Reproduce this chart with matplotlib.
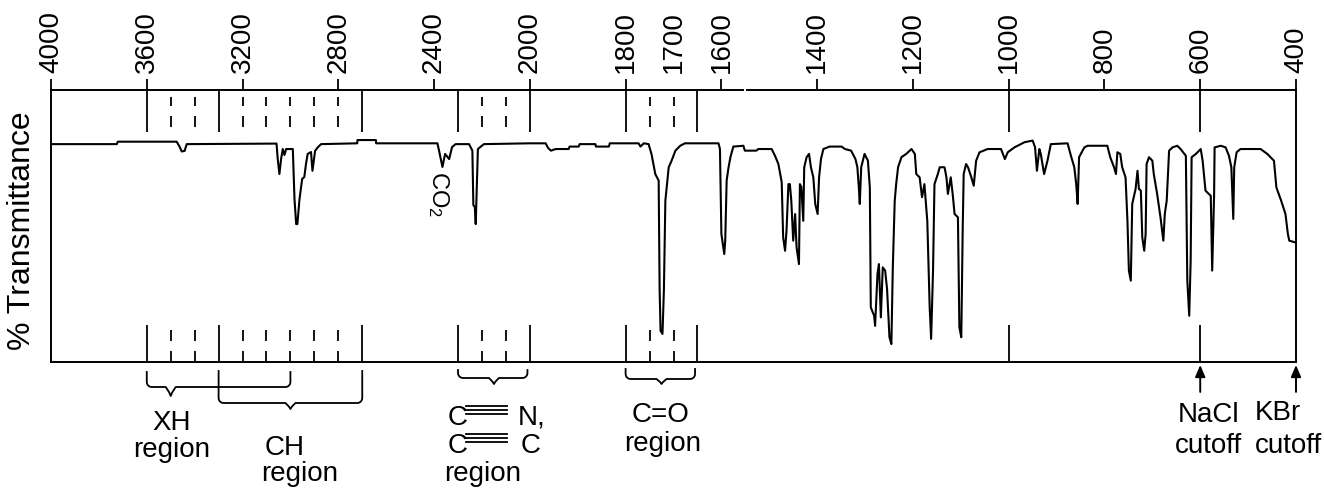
import numpy as np
import matplotlib
matplotlib.use('Agg')
import matplotlib.pyplot as plt
from matplotlib.ticker import FixedLocator, FixedFormatter
from matplotlib.lines import Line2D
from matplotlib.transforms import Affine2D

plt.rcParams['font.family'] = ['Liberation Sans', 'DejaVu Sans']
plt.rcParams['mathtext.default'] = 'regular'

W, H = 1324, 489

# IR spectrum: wavenumber (cm-1) and % transmittance
wavenumber = [4000, 3725, 3721, 3475, 3462, 3454, 3442, 3433, 3058, 3053, 3046, 3039, 3032, 3025,
              3018, 2990, 2983, 2976, 2971, 2962, 2951, 2942, 2935, 2928, 2914, 2908, 2897, 2886,
              2872, 2721, 2720, 2643, 2642, 2386, 2379, 2365, 2354, 2337, 2325, 2310, 2254, 2240,
              2236, 2230, 2226, 2223, 2217, 2192, 2000,
              1967, 1962, 1956, 1946, 1919, 1917, 1898, 1896, 1863, 1862, 1835, 1833, 1773, 1769,
              1762, 1752, 1746, 1742, 1738, 1731, 1729, 1727, 1723, 1720, 1717, 1710, 1704, 1696,
              1686, 1676, 1606, 1603, 1600, 1594, 1592, 1589, 1585, 1581, 1575, 1554, 1551, 1527,
              1523, 1495, 1488, 1481, 1474, 1471, 1467, 1464, 1460, 1457, 1454, 1450, 1446, 1443,
              1438, 1436, 1433, 1429, 1427, 1422, 1417, 1413, 1408, 1404, 1399, 1396, 1392, 1387,
              1374, 1349, 1342, 1329, 1320, 1316, 1313, 1311, 1308, 1301, 1294, 1290, 1288, 1281,
              1279, 1274, 1271, 1267, 1263, 1258, 1254, 1249, 1245, 1242, 1238, 1235, 1231, 1224,
              1214, 1203, 1196, 1193, 1186, 1181, 1176, 1170, 1165, 1162, 1158, 1155, 1148, 1144,
              1134, 1130, 1127, 1121, 1117, 1113, 1106, 1103, 1099, 1096, 1094, 1089, 1085, 1078,
              1073, 1068, 1061, 1044, 1016, 1008, 1002, 988, 967, 950, 945, 941, 936, 933, 926,
              919, 912, 877, 870, 863, 859, 856, 853, 842, 835, 794, 788, 780, 776, 773, 767, 763,
              756, 752, 749, 745, 742, 735, 731, 728, 724, 721, 717, 714, 712, 707, 700, 697, 690,
              683, 677, 674, 670, 665, 658, 648, 641, 630, 627, 623, 621, 620, 618, 609, 599, 595,
              589, 578, 575, 571, 570, 557, 547, 540, 535, 531, 529, 524, 516, 474, 460, 446, 441,
              431, 422, 417, 414, 402]
transmittance = [80.1, 80.1, 81.0, 81.0, 79.0, 77.4, 77.6, 80.1, 80.3, 74.6, 69.1, 74.6, 78.3, 76.1,
                 78.3, 78.3, 59.9, 50.7, 50.7, 59.9, 67.3, 68.0, 72.8, 76.5, 77.2, 70.3, 77.6, 78.9,
                 80.1, 80.4, 81.6, 81.6, 80.4, 80.4, 77.6, 71.7, 76.5, 74.6, 79.0, 80.1, 80.1, 77.7,
                 57.7, 57.0, 50.7, 60.0, 78.3, 80.1, 80.4,
                 80.4, 78.7, 77.7, 78.3, 78.3, 79.2, 79.2, 80.1, 80.1, 79.2, 79.2, 80.4, 80.4, 79.2,
                 80.4, 80.1, 76.5, 72.8, 69.1, 66.7, 26.8, 11.5, 10.3, 26.8, 59.3, 71.6, 74.0, 77.7,
                 79.5, 80.4, 80.4, 78.3, 47.1, 39.7, 44.6, 66.7, 71.6, 75.4, 79.2, 79.5, 77.7, 77.7,
                 78.3, 78.3, 75.8, 72.8, 66.1, 45.8, 40.9, 48.3, 65.4, 65.4, 59.3, 44.6, 54.4, 42.2,
                 36.0, 65.4, 64.3, 51.9, 71.6, 75.3, 76.5, 71.6, 67.9, 58.1, 54.4, 67.9, 74.6, 78.3,
                 79.2, 79.2, 78.3, 77.7, 74.6, 71.6, 64.2, 58.1, 71.6, 76.5, 74.0, 64.2, 20.1, 17.0,
                 13.3, 32.4, 36.0, 16.4, 34.8, 33.6, 26.8, 9.1, 6.6, 34.8, 59.3, 65.4, 71.6, 75.3,
                 76.5, 78.3, 76.5, 69.1, 67.9, 60.6, 65.4, 51.9, 20.1, 8.5, 33.6, 65.4, 69.1, 71.6,
                 71.6, 67.9, 61.8, 67.9, 61.8, 54.4, 53.2, 12.8, 9.1, 49.5, 69.1, 72.8, 71.6, 67.9,
                 64.8, 74.0, 77.1, 78.3, 78.3, 74.6, 77.1, 78.9, 80.8, 81.4, 79.0, 70.3, 78.3, 76.5, 69.1,
                 74.0, 80.1, 80.4, 75.8, 71.6, 65.4, 58.1, 75.3, 78.9, 79.5, 79.5, 75.3, 71.6, 69.1, 77.1, 76.5, 71.6,
                 67.9, 51.9, 33.6, 29.9, 58.1, 63.6, 70.3, 63.6, 63.0, 45.8, 40.9, 47.1, 72.8, 75.3, 74.0, 69.1, 61.8,
                 53.2, 44.6, 54.4, 59.3, 77.7, 78.9, 79.5, 78.3, 75.8, 29.9, 17.0, 29.9, 37.2, 75.3, 76.5, 78.3, 74.0,
                 63.0, 61.1, 33.6, 61.8, 78.9, 79.5, 78.9, 75.8, 71.6, 52.6, 71.6, 77.1, 78.3, 78.3, 76.5, 74.0, 64.2,
                 59.3, 54.4, 47.1, 44.6, 44.0]

tick_values = [4000, 3600, 3200, 2800, 2400, 2000, 1800, 1600, 1400, 1200, 1000, 800, 600, 400]
solid_marks = [3600, 3300, 2700, 2300, 2000, 1800, 1650, 1000, 600]
dashed_marks = [3500, 3400, 3200, 3100, 3000, 2900, 2800, 2200, 2100, 1750, 1700]
cutoffs = [600, 400]

# braces under the axis: left, right, apex wavenumber, then top/flat/tip offsets (px below axis)
braces = [(3600, 3000, 3500, 10, 25, 34),
          (3300, 2700, 3000, 9, 41, 47),
          (2300, 2010, 2150, 8, 16, 22),
          (1800, 1655, 1725, 7, 17, 22)]


def fwd(w):
    # 4000-2000 is drawn at half the scale of 2000-400
    w = np.asarray(w, dtype=float)
    return np.where(w >= 2000, 1000 + (w - 2000) / 2, w - 1000)


def inv(t):
    t = np.asarray(t, dtype=float)
    return np.where(t >= 1000, 2000 + 2 * (t - 1000), t + 1000)


fig = plt.figure(figsize=(W / 100, H / 100), dpi=100)
ax = fig.add_axes([51 / W, 1 - 363 / H, (1296 - 51) / W, (363 - 91) / H])
ax.set_xscale('function', functions=(fwd, inv))
ax.set_xlim(4000, 400)
ax.set_ylim(0, 100)

# pixel coords with origin at top-left of the image
pix = Affine2D().scale(1 / W, -1 / H).translate(0, 1) + fig.transFigure

ax.plot(wavenumber, transmittance, color='black', lw=1.5)

# region marks hanging from the top and rising from the bottom
lw = 1.3
ax.vlines(solid_marks, 84.7, 100, color='black', lw=lw, clip_on=False)
ax.vlines(solid_marks, 0, 13.7, color='black', lw=lw, clip_on=False)
for lo, hi in [(94.0, 97.5), (86.3, 90.5)]:
    ax.vlines(dashed_marks, lo, hi, color='black', lw=lw)
for lo, hi in [(0, 4.2), (7.8, 11.8)]:
    ax.vlines(dashed_marks, lo, hi, color='black', lw=lw, clip_on=False)

# top line has a small break near 1550
ax.spines['top'].set_visible(False)
ax.plot([4000, 1555], [100, 100], color='black', lw=1.4, clip_on=False)
ax.plot([1546, 400], [100, 100], color='black', lw=1.4, clip_on=False)
for s in ['left', 'right', 'bottom']:
    ax.spines[s].set_linewidth(1.4)

ax.xaxis.tick_top()
ax.xaxis.set_major_locator(FixedLocator(tick_values))
ax.xaxis.set_major_formatter(FixedFormatter([str(v) for v in tick_values]))
ax.xaxis.set_minor_locator(FixedLocator([1700]))
ax.xaxis.set_minor_formatter(FixedFormatter(['1700']))
ax.tick_params(axis='x', which='major', length=8, width=1.3, pad=5, labelsize=20,
               labelrotation=90, top=True, bottom=False, labeltop=True, labelbottom=False)
ax.tick_params(axis='x', which='minor', length=0, pad=13, labelsize=20,
               labelrotation=90, top=True, bottom=False, labeltop=True, labelbottom=False)
ax.set_yticks([])

fig.text(22, 231, '% Transmittance', transform=pix, rotation=90, ha='center', va='center',
         fontsize=23)
ax.text(2380, 62, r'CO$_2$', rotation=270, ha='center', va='center', fontsize=17)

# cutoff arrows
for w in cutoffs:
    ax.annotate('', xy=(w, -1.1), xytext=(w, -11), annotation_clip=False,
                arrowprops=dict(arrowstyle='-|>,head_length=0.7,head_width=0.3', color='black',
                                lw=1.4, shrinkA=0, shrinkB=0))

# braces
base = H - ax.transAxes.transform((0, 0))[1]


def px(w):
    return ax.transData.transform((w, 50))[0]


def arc(cx, cy, r, a0, a1):
    a = np.linspace(a0, a1, 8)
    return list(cx + r * np.cos(a)), list(cy + r * np.sin(a))


for wl, wr, wa, top, flat, tip in braces:
    xl, xr, xa = px(wl), px(wr), px(wa)
    y_top, y_flat, y_tip = base + top, base + flat, base + tip
    r = 5
    xs, ys = [xl], [y_top]
    ax_, ay_ = arc(xl + r, y_flat - r, r, np.pi, np.pi / 2)
    xs += ax_; ys += ay_
    xs += [xa - r, xa - 1.5, xa, xa + 1.5, xa + r]
    ys += [y_flat, y_flat + (y_tip - y_flat) * 0.6, y_tip, y_flat + (y_tip - y_flat) * 0.6, y_flat]
    ax_, ay_ = arc(xr - r, y_flat - r, r, np.pi / 2, 0)
    xs += ax_; ys += ay_
    xs += [xr]; ys += [y_top]
    fig.add_artist(Line2D(xs, ys, transform=pix, color='black', lw=1.3))

# labels under the axis
fs = 20
labels = [(171.5, 430, 'XH'), (171.7, 457, 'region'),
          (285, 455, 'CH'), (300, 481, 'region'),
          (483, 481, 'region'),
          (661, 422, 'C=O'), (663, 451, 'region'),
          (1209, 422, 'NaCl'), (1208, 453, 'cutoff'),
          (1278, 420, 'KBr'), (1288, 453, 'cutoff')]
for x, y, s in labels:
    fig.text(x, y, s, transform=pix, ha='center', va='baseline', fontsize=fs)

# C≡N, / C≡C with long triple bonds
for y, tail in [(425, 'N,'), (453, 'C')]:
    fig.text(448, y, 'C', transform=pix, ha='left', va='baseline', fontsize=fs)
    fig.text(518 if tail == 'N,' else 521, y, tail, transform=pix, ha='left', va='baseline',
             fontsize=fs)
    mid = y - 14.5
    for dy in (-4, 0, 4):
        fig.add_artist(Line2D([466, 507], [mid + dy, mid + dy], transform=pix, color='black',
                              lw=1.3))

fig.savefig('out.png', dpi=100)
